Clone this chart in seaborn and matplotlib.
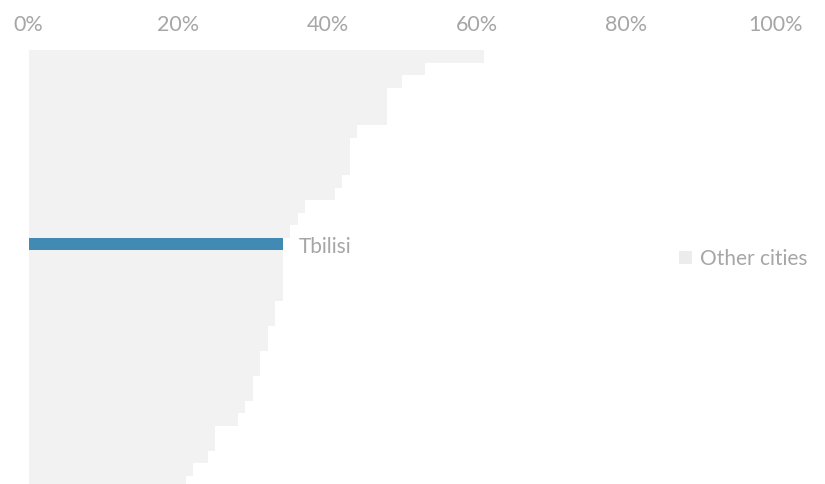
import matplotlib
matplotlib.use("Agg")
import matplotlib.pyplot as plt
import matplotlib.patches as mpatches
import seaborn as sns
import pandas as pd

# Share per city, sorted from highest to lowest (percent)
shares = [61, 53, 50, 48, 48, 48, 44, 43, 43, 43, 42, 41, 37, 36, 35,
          34, 34, 34, 34, 34, 33, 33, 32, 32, 31, 31, 30, 30, 29, 28,
          25, 25, 24, 22, 21]
highlight_index = 15
highlight_name = "Tbilisi"
cities = [highlight_name if i == highlight_index else f"City {i + 1}"
          for i in range(len(shares))]
groups = [highlight_name if c == highlight_name else "Other cities" for c in cities]
tick_values = [0, 0.2, 0.4, 0.6, 0.8, 1.0]
tick_labels = ["0%", "20%", "40%", "60%", "80%", "100%"]

other_color = "#f2f2f2"
highlight_color = "#418ab3"
text_color = "#a6a6a6"

df = pd.DataFrame({"city": cities, "share": [s / 100 for s in shares], "group": groups})

sns.set_theme(style="white")
plt.rcParams["font.family"] = ["Lato", "DejaVu Sans"]

W, H = 825, 484
top_px, pitch_px = 50, 12.53
axes_h_px = pitch_px * len(shares)
fig = plt.figure(figsize=(W / 100, H / 100), dpi=100)
ax = fig.add_axes([28.7 / W, (H - top_px - axes_h_px) / H,
                   (775.7 - 28.7) / W, axes_h_px / H])

sns.barplot(data=df, y="city", x="share", hue="group", orient="h",
            palette={highlight_name: highlight_color, "Other cities": other_color},
            dodge=False, width=1.0, legend=False, saturation=1, ax=ax,
            linewidth=0)

ax.set_xlim(0, 1)
ax.set_ylim(len(shares) - 0.5, -0.5)
ax.xaxis.tick_top()
ax.set_xticks(tick_values)
ax.set_xticklabels(tick_labels)
ax.tick_params(axis="x", length=0, pad=11, labelsize=15.5, labelcolor=text_color)
ax.set_yticks([])
ax.set_xlabel("")
ax.set_ylabel("")
for spine in ax.spines.values():
    spine.set_visible(False)

ax.annotate(highlight_name, xy=(shares[highlight_index] / 100, highlight_index),
            xytext=(11.5, -2), textcoords="offset points", va="center", ha="left",
            fontsize=15, color=text_color)

handle = mpatches.Patch(facecolor="#ececec", edgecolor="none", label="Other cities")
fig.legend(handles=[handle], loc="center right",
           bbox_to_anchor=(1 - 5 / W, 1 - 259 / H),
           frameon=False, fontsize=15, labelcolor=text_color,
           handlelength=0.6, handleheight=0.6, handletextpad=0.4,
           borderaxespad=0.2)

fig.savefig("out.png", dpi=100)
